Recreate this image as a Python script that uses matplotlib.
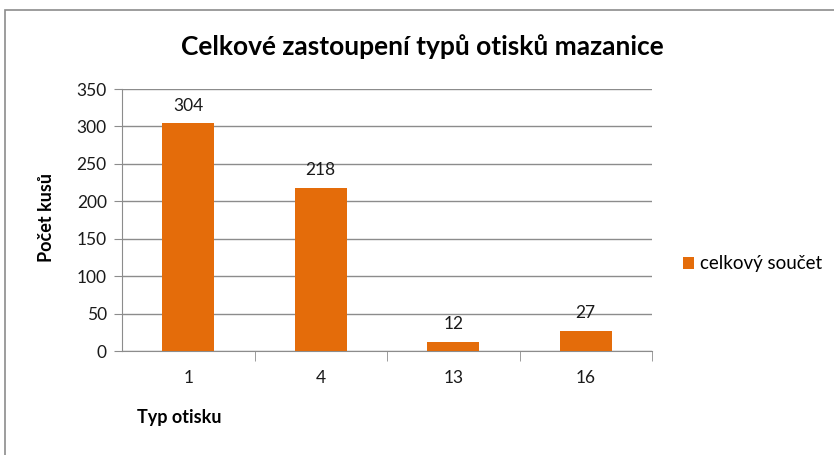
import matplotlib
matplotlib.use("Agg")
import matplotlib.pyplot as plt
from matplotlib.patches import Rectangle

categories = ["1", "4", "13", "16"]
values = [304, 218, 12, 27]
series_name = "celkový součet"
title = "Celkové zastoupení typů otisků mazanice"
yticks = [0, 50, 100, 150, 200, 250, 300, 350]

plt.rcParams['font.family'] = ['Lato', 'DejaVu Sans']
W, H = 834, 455
fig = plt.figure(figsize=(W/100, H/100), dpi=100)
fig.patch.set_facecolor("white")

# outer border
fig.add_artist(Rectangle((5/W, -0.1), 1.2, 1 - 10/H + 0.1, transform=fig.transFigure,
                         fill=False, edgecolor="#8c8c8c", linewidth=1.2))

ax = fig.add_axes([122/W, 1 - 351/H, (652-122)/W, (351-89)/H])
color = "#E46C0A"
x = range(len(categories))
bars = ax.bar(x, values, width=0.39, color=color, label=series_name, zorder=3)
ax.set_xlim(-0.5, len(categories) - 0.5)
ax.set_ylim(0, 350)
ax.set_yticks(yticks)
ax.set_yticklabels([str(v) for v in yticks], fontsize=12.5, color="#1a1a1a")
ax.set_xticks(list(x))
ax.set_xticklabels(categories, fontsize=12.5, color="#1a1a1a")
ax.tick_params(axis="x", length=0, pad=14)
ax.tick_params(axis="y", length=6, color="#8c8c8c", pad=5)
# minor ticks between categories
ax.set_xticks([i + 0.5 for i in range(len(categories))], minor=True)
ax.tick_params(axis="x", which="minor", length=7, color="#8c8c8c", direction="out")
ax.grid(axis="y", color="#8c8c8c", linewidth=1, zorder=0)
for s in ["top", "right"]:
    ax.spines[s].set_visible(False)
for s in ["left", "bottom"]:
    ax.spines[s].set_color("#8c8c8c")

for b, v in zip(bars, values):
    ax.annotate(str(v), (b.get_x() + b.get_width()/2, v), xytext=(0, 7),
                textcoords="offset points", ha="center", va="bottom",
                fontsize=12.5, color="#1a1a1a")

fig.text(0.5 * (180 + 665) / W, 1 - 47/H, title, ha="center", va="center",
         fontsize=19, fontweight="bold", color="black")
fig.text(47/W, 1 - 218/H, "Počet kusů", rotation=90, ha="center", va="center",
         fontsize=13, fontweight="bold", color="black")
fig.text(137/W, 1 - 418/H, "Typ otisku", ha="left", va="center",
         fontsize=13, fontweight="bold", color="black")

leg = fig.legend(handles=[bars], labels=[series_name], loc="center left",
                 bbox_to_anchor=(683/W, 1 - 264/H), frameon=False, fontsize=13.5,
                 borderpad=0, borderaxespad=0,
                 handlelength=0.6, handleheight=0.6, handletextpad=0.3)

fig.savefig("out.png", dpi=100)
